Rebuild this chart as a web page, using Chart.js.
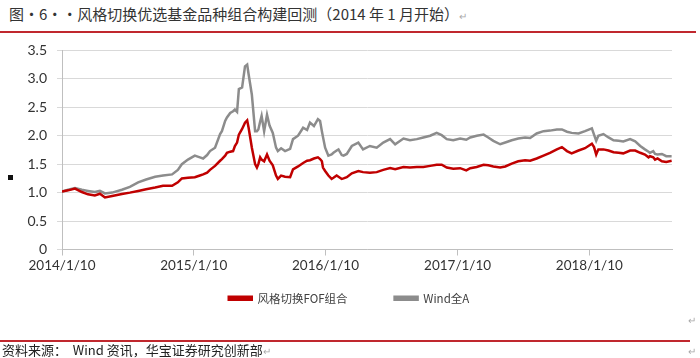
<!DOCTYPE html>
<html>
<head>
<meta charset="utf-8">
<script src="https://cdn.jsdelivr.net/npm/chart.js@4/dist/chart.umd.min.js"></script>
<style>
  body { margin: 0; width: 700px; height: 358px; background: #fff; position: relative; overflow: hidden;
         font-family: "Noto Sans CJK SC", sans-serif; }
  .title { position: absolute; left: 9px; top: 3px; font-size: 15px; color: #333; white-space: pre; }
  .rule { position: absolute; left: 0; height: 2px; background: #c0282e; }
  .source { position: absolute; left: 2px; top: 340px; font-size: 13px; color: #222; white-space: pre; }
  .mark { color: #aaa; font-size: 10px; }
  .pmark { position: absolute; color: #aaa; font-size: 10px; }
  .bullet { position: absolute; left: 8px; top: 175px; width: 5px; height: 5px; background: #111; }
  canvas { position: absolute; left: 0; top: 32px; }
</style>
</head>
<body>
<div class="title">图·6··风格切换优选基金品种组合构建回测（2014 年 1 月开始）<span class="mark">↵</span></div>
<div class="rule" style="top:31px;width:696px"></div>
<div class="bullet"></div>
<canvas id="chart" width="700" height="310"></canvas>
<div class="pmark" style="left:688px;top:312px">↵</div>
<div class="rule" style="top:340px;width:690px"></div>
<div class="source" style="top:340px">资料来源：  Wind 资讯，华宝证券研究创新部<span class="mark">↵</span></div>
<div class="pmark" style="left:688px;top:343px">↵</div>
<script>
'use strict';

// days since 2014/1/10
var days = [0, 17, 36, 55, 72, 91, 105, 119, 139, 166, 188, 211, 233, 258, 280, 305, 321, 332, 349, 368,
  382, 391, 402, 410, 424, 438, 443, 452, 457, 466, 474, 479, 485, 490, 499, 507, 513, 517, 526, 535,
  540, 544, 549, 553, 560, 568, 575, 584, 593, 598, 607, 618, 632, 640, 654, 668, 679, 687, 698, 709,
  715, 720, 723, 729, 738, 747, 752, 761, 766, 775, 780, 789, 803, 821, 834, 853, 872, 890, 909, 923,
  946, 964, 983, 1001, 1020, 1038, 1052, 1066, 1084, 1103, 1120, 1131, 1149, 1168, 1181, 1195, 1214, 1228, 1246, 1264,
  1283, 1297, 1315, 1334, 1352, 1371, 1385, 1399, 1412, 1431, 1449, 1468, 1474, 1480, 1486, 1500, 1514, 1528, 1542, 1555,
  1574, 1588, 1602, 1615, 1625, 1629, 1638, 1643, 1650, 1662, 1674, 1689];

var fofValues = [1.02, 1.04, 1.07, 1.01, 0.97, 0.95, 0.98, 0.915, 0.94, 0.975, 1.00, 1.03, 1.06, 1.09, 1.12, 1.12, 1.18, 1.25, 1.26, 1.27,
  1.30, 1.32, 1.35, 1.40, 1.47, 1.56, 1.59, 1.65, 1.70, 1.72, 1.73, 1.82, 1.88, 2.02, 2.12, 2.23, 2.27, 2.14, 1.79, 1.50,
  1.44, 1.50, 1.62, 1.58, 1.55, 1.67, 1.56, 1.48, 1.30, 1.24, 1.30, 1.28, 1.27, 1.41, 1.46, 1.52, 1.56, 1.57, 1.60, 1.62,
  1.59, 1.55, 1.44, 1.38, 1.30, 1.24, 1.26, 1.30, 1.28, 1.24, 1.25, 1.27, 1.34, 1.38, 1.36, 1.35, 1.36, 1.40, 1.43, 1.41,
  1.45, 1.44, 1.45, 1.45, 1.47, 1.49, 1.49, 1.44, 1.42, 1.43, 1.39, 1.43, 1.45, 1.49, 1.48, 1.46, 1.44, 1.46, 1.51, 1.55,
  1.57, 1.56, 1.60, 1.65, 1.70, 1.76, 1.80, 1.73, 1.69, 1.74, 1.78, 1.86, 1.80, 1.67, 1.76, 1.76, 1.74, 1.71, 1.70, 1.69,
  1.74, 1.74, 1.70, 1.67, 1.62, 1.64, 1.62, 1.58, 1.60, 1.55, 1.54, 1.56];

var windAValues = [1.02, 1.05, 1.08, 1.05, 1.03, 1.01, 1.03, 0.985, 1.00, 1.05, 1.10, 1.18, 1.23, 1.28, 1.30, 1.32, 1.40, 1.50, 1.58, 1.65,
  1.62, 1.60, 1.66, 1.73, 1.79, 2.03, 2.08, 2.26, 2.32, 2.40, 2.43, 2.46, 2.42, 2.82, 2.85, 3.22, 3.25, 3.08, 2.72, 2.08,
  2.08, 2.11, 2.25, 2.35, 2.08, 2.37, 2.18, 2.05, 1.79, 1.73, 1.78, 1.73, 1.77, 1.94, 2.00, 2.14, 2.10, 2.23, 2.17, 2.29,
  2.26, 2.08, 1.98, 1.79, 1.65, 1.67, 1.70, 1.74, 1.76, 1.66, 1.65, 1.68, 1.82, 1.88, 1.76, 1.82, 1.79, 1.88, 1.94, 1.85,
  1.95, 1.92, 1.94, 1.97, 2.00, 2.05, 2.01, 1.94, 1.92, 1.95, 1.93, 1.97, 2.00, 2.02, 1.97, 1.91, 1.85, 1.88, 1.92, 1.95,
  1.97, 1.96, 2.04, 2.08, 2.09, 2.11, 2.11, 2.07, 2.05, 2.04, 2.08, 2.13, 2.02, 1.91, 2.00, 2.03, 1.97, 1.92, 1.91, 1.90,
  1.94, 1.90, 1.82, 1.76, 1.72, 1.70, 1.73, 1.68, 1.67, 1.68, 1.64, 1.64];

var tickDays = [0, 365, 730, 1096, 1461];
var tickLabels = ['2014/1/10', '2015/1/10', '2016/1/10', '2017/1/10', '2018/1/10'];

function toPoints(values) {
  return values.map(function(v, i) {
    return {x: days[i], y: v};
  });
}

// legend padding also sets the gap between items, so pull the box up afterwards
var legendLift = {
  id: 'legendLift',
  afterLayout: function(chart) {
    var lift = 28;
    chart.legend.top -= lift;
    chart.legend.bottom -= lift;
  }
};

var tickFont = {family: 'Lato, "Noto Sans CJK SC"', size: 13.5};
var axisColor = '#bfbfbf';

new Chart(document.getElementById('chart').getContext('2d'), {
  type: 'line',
  data: {
    datasets: [{
      label: '风格切换FOF组合',
      data: toPoints(fofValues),
      borderColor: '#c00000',
      backgroundColor: '#c00000',
      borderWidth: 2.5,
      pointRadius: 0
    }, {
      label: 'Wind全A',
      data: toPoints(windAValues),
      borderColor: '#8c8c8c',
      backgroundColor: '#8c8c8c',
      borderWidth: 2.5,
      pointRadius: 0
    }]
  },
  options: {
    responsive: false,
    animation: false,
    devicePixelRatio: 1,
    layout: {padding: {top: 0, right: 28, bottom: 0, left: 26}},
    plugins: {
      tooltip: {enabled: false},
      legend: {
        position: 'bottom',
        labels: {
          boxWidth: 23,
          boxHeight: 3,
          padding: 47,
          color: '#404040',
          font: {family: '"Noto Sans CJK SC", Lato', size: 11.5}
        }
      }
    },
    scales: {
      x: {
        type: 'linear',
        min: 0,
        max: 1690,
        afterBuildTicks: function(scale) {
          scale.ticks = tickDays.map(function(v) { return {value: v}; });
        },
        afterFit: function(scale) { scale.height = 24; },
        grid: {drawOnChartArea: false, tickLength: 6, color: axisColor},
        border: {color: axisColor},
        ticks: {
          autoSkip: false,
          maxRotation: 0,
          padding: 2,
          color: '#333',
          font: tickFont,
          callback: function(v) { return tickLabels[tickDays.indexOf(v)]; }
        }
      },
      y: {
        min: 0,
        max: 3.5,
        afterFit: function(scale) { scale.width = 36; },
        grid: {color: '#d9d9d9', tickLength: 5},
        border: {color: axisColor},
        ticks: {stepSize: 0.5, padding: 10, color: '#333', font: {family: 'Lato', size: 14}}
      }
    }
  },
  plugins: [legendLift]
});
</script>
</body>
</html>
